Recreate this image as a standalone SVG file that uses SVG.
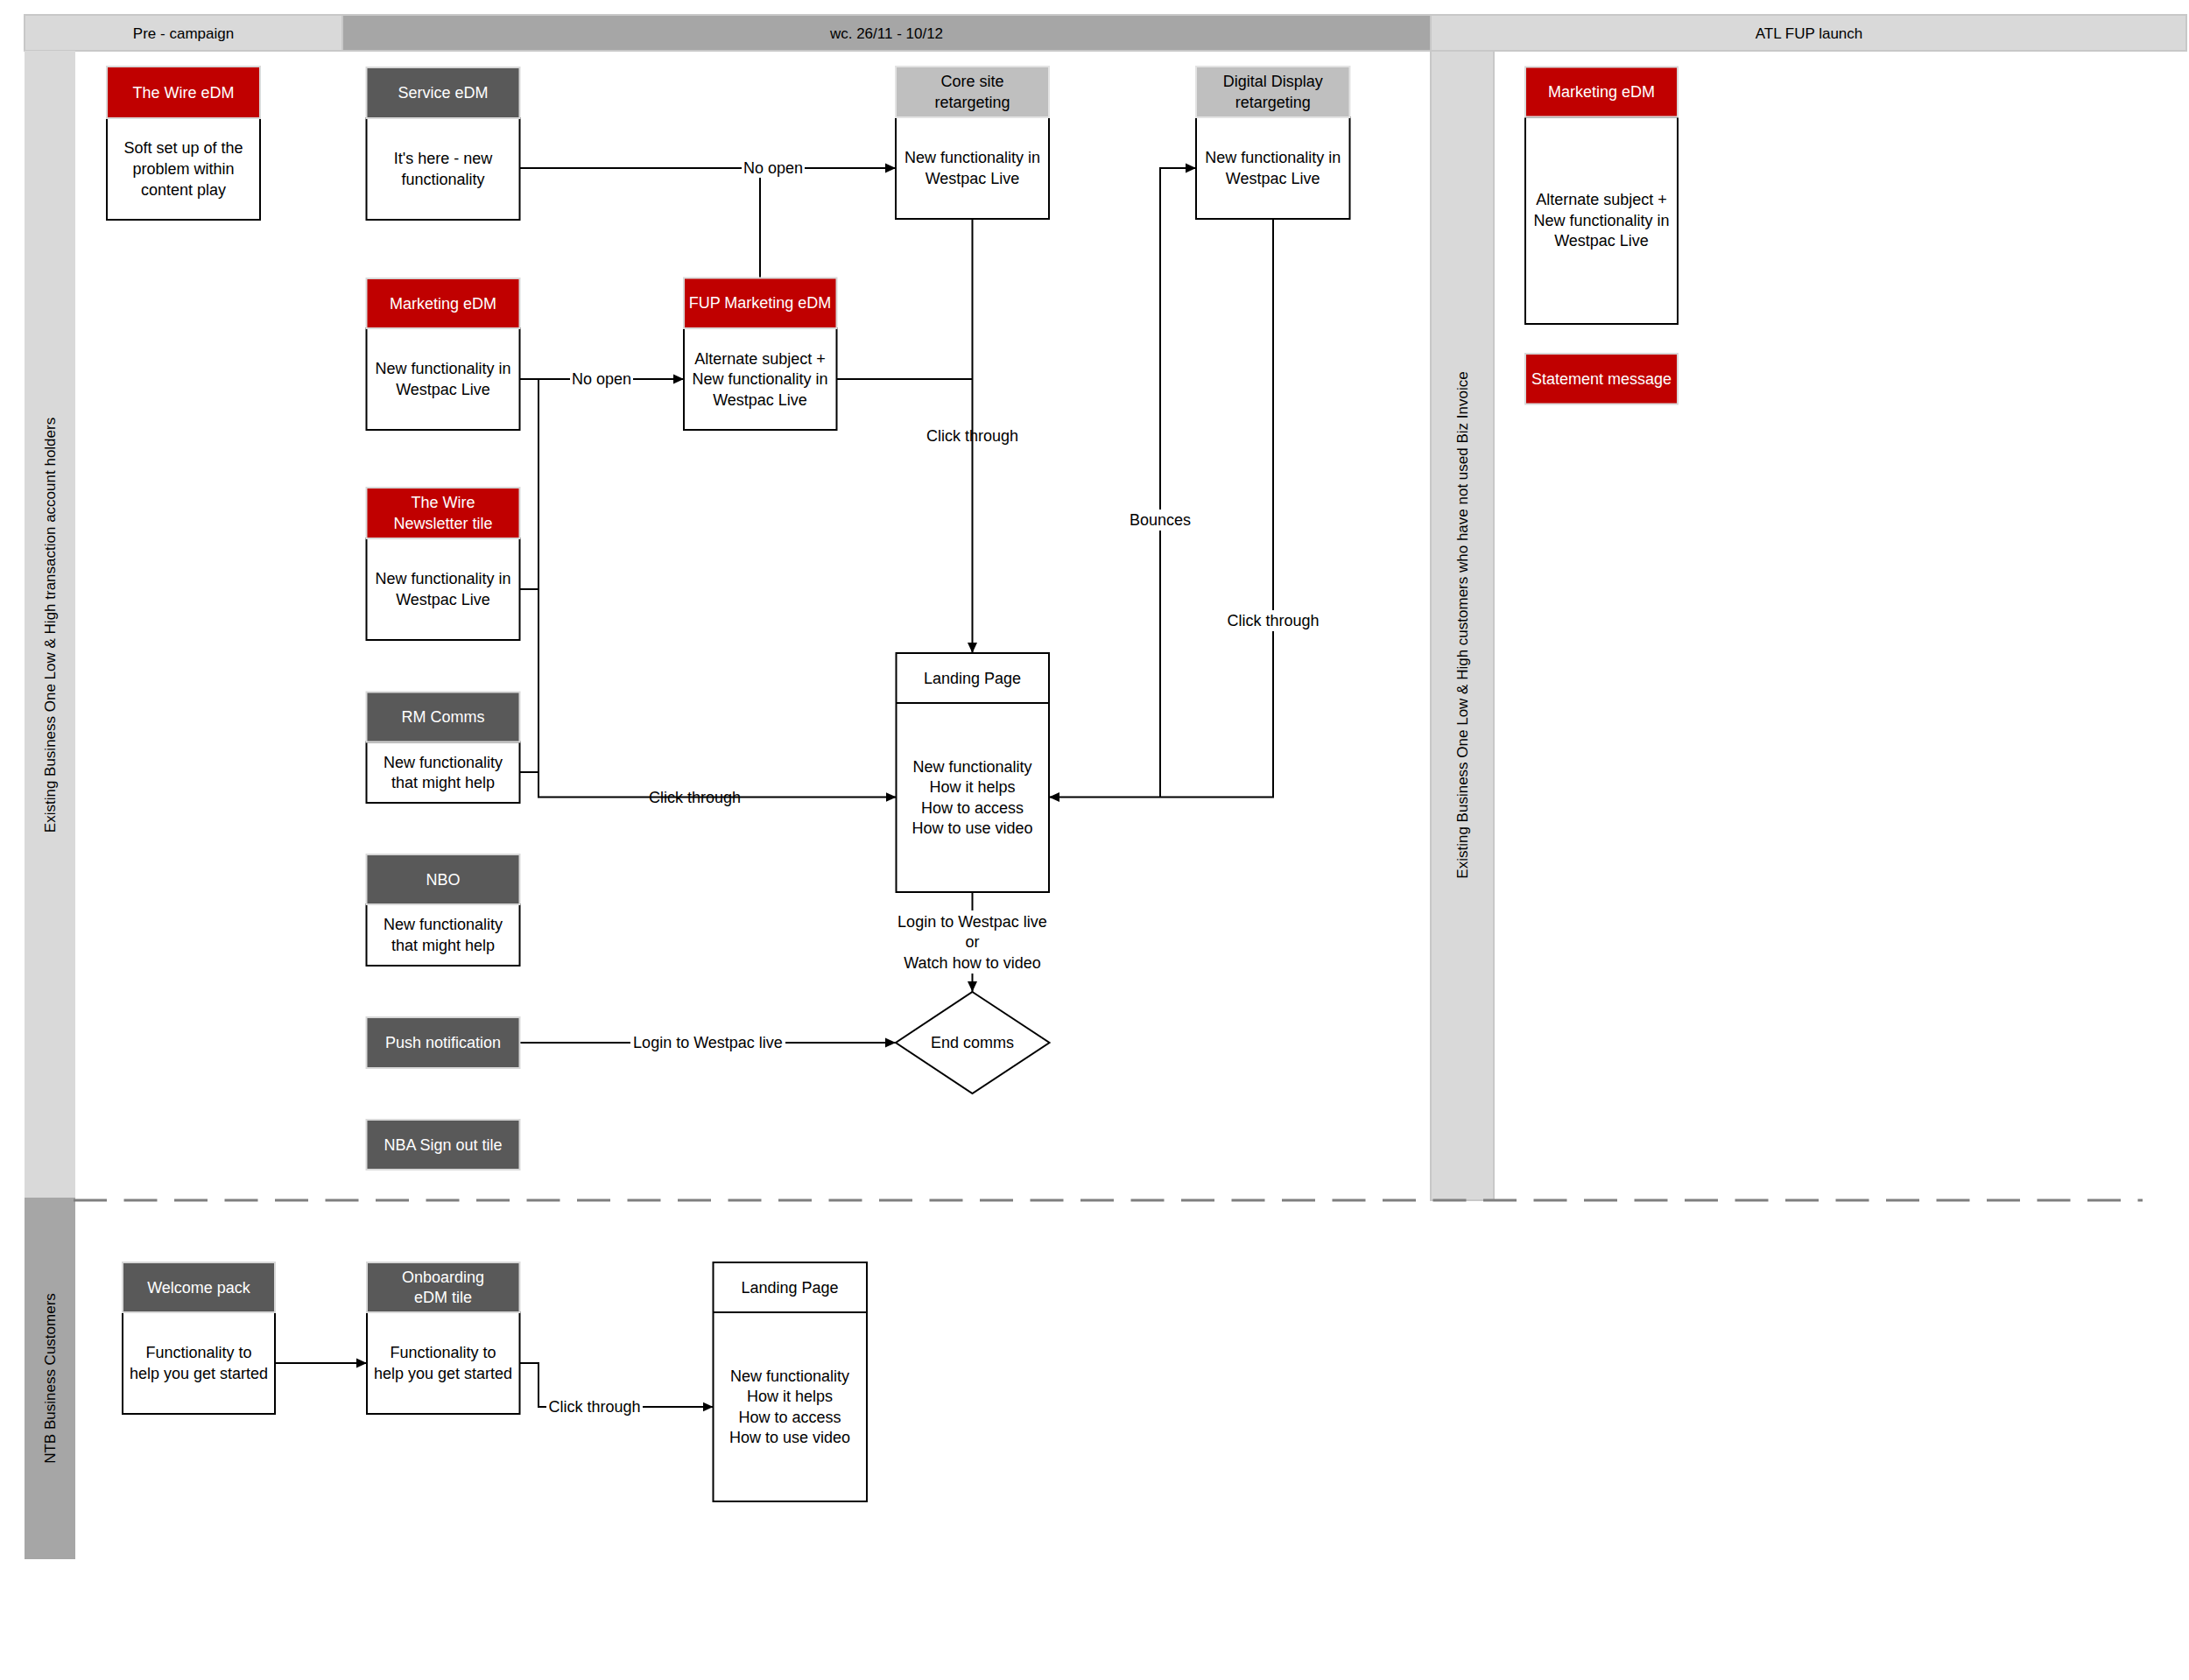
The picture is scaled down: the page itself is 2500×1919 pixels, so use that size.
<svg xmlns="http://www.w3.org/2000/svg" width="2500" height="1919" viewBox="0 0 2500 1919">
<defs>
<style>
.band{fill:#d9d9d9;stroke:#c8c8c8;stroke-width:2}
.bandd{fill:#a6a6a6;stroke:#c8c8c8;stroke-width:2}
.hr{fill:#c00000;stroke:#d9d9d9;stroke-width:2}
.hd{fill:#595959;stroke:#d9d9d9;stroke-width:2}
.hl{fill:#bfbfbf;stroke:#e3e3e3;stroke-width:2}
.bx{fill:#fff;stroke:#000;stroke-width:2}
text{font-family:"Liberation Sans",Arial,sans-serif;font-size:18px;text-anchor:middle;fill:#000}
.w{fill:#fff}
.hdr{font-size:17px}
.lane{font-size:17px}
.c{fill:none;stroke:#000;stroke-width:2}
.bg{fill:#fff}
.dash{fill:none;stroke:#7f7f7f;stroke-width:3;stroke-dasharray:38 19.5}
</style>
<marker id="arr" viewBox="0 0 12 12" refX="12" refY="6" markerWidth="12" markerHeight="12" markerUnits="userSpaceOnUse" orient="auto"><path d="M0,0.5 L12,6 L0,11.5 z" fill="#000"/></marker>
</defs>
<rect width="2500" height="1919" fill="#fff"/>

<g id="lanes">
<rect class="band" x="28" y="17" width="363" height="41"/>
<rect class="bandd" x="391" y="17" width="1243" height="41"/>
<rect class="band" x="1634" y="17" width="863" height="41"/>
<text class="hdr" x="209.5" y="43.5">Pre - campaign</text>
<text class="hdr" x="1012.5" y="43.5">wc. 26/11 - 10/12</text>
<text class="hdr" x="2066" y="43.5">ATL FUP launch</text>
<rect x="28" y="58" width="58" height="1310" fill="#d9d9d9"/>
<rect x="28" y="1368" width="58" height="413" fill="#a6a6a6"/>
<rect x="1634" y="58" width="72" height="1313" fill="#d9d9d9" stroke="#c8c8c8" stroke-width="2"/>
<text class="lane" transform="translate(57,714) rotate(-90)" y="6">Existing Business One Low &amp; High transaction account holders</text>
<text class="lane" transform="translate(1670,714) rotate(-90)" y="6">Existing Business One Low &amp; High customers who have not used Biz Invoice</text>
<text class="lane" transform="translate(57,1574.5) rotate(-90)" y="6">NTB Business Customers</text>
<path class="dash" d="M84,1371 H2447"/>
</g>

<g id="connectors">
<path class="c" d="M593.5,192 H1023" marker-end="url(#arr)"/>
<path class="c" d="M868,317.5 V192"/>
<path class="c" d="M593.5,433 H781" marker-end="url(#arr)"/>
<path class="c" d="M615,433 V910.5 H1023.5" marker-end="url(#arr)"/>
<path class="c" d="M593.5,673 H615"/>
<path class="c" d="M593.5,882 H615"/>
<path class="c" d="M955.5,433 H1110.5"/>
<path class="c" d="M1110.5,250 V746" marker-end="url(#arr)"/>
<path class="c" d="M1454,250 V910.5 H1198" marker-end="url(#arr)"/>
<path class="c" d="M1325,910.5 V192 H1366" marker-end="url(#arr)"/>
<path class="c" d="M1110.5,1019 V1133" marker-end="url(#arr)"/>
<path class="c" d="M593.5,1191 H1023" marker-end="url(#arr)"/>
<path class="c" d="M314,1557 H419" marker-end="url(#arr)"/>
<path class="c" d="M593.5,1557 H615 V1607 H814.5" marker-end="url(#arr)"/>
<rect class="bg" x="847" y="181" width="72" height="22"/>
<text x="883" y="198">No open</text>
<rect class="bg" x="651" y="422" width="72" height="22"/>
<text x="687" y="439">No open</text>
<text x="793.5" y="916.5">Click through</text>
<text x="1110.5" y="504">Click through</text>
<rect class="bg" x="1288" y="582" width="74" height="24"/>
<text x="1325" y="600">Bounces</text>
<rect class="bg" x="1399" y="697" width="110" height="24"/>
<text x="1454" y="715">Click through</text>
<rect class="bg" x="1022.5" y="1040" width="176" height="72"/>
<text x="1110.5" y="1058.7">Login to Westpac live</text>
<text x="1110.5" y="1082.3">or</text>
<text x="1110.5" y="1105.5">Watch how to video</text>
<rect class="bg" x="720" y="1180" width="177" height="22"/>
<text x="808.5" y="1197">Login to Westpac live</text>
<rect class="bg" x="624" y="1596" width="110" height="22"/>
<text x="679" y="1613">Click through</text>
</g>

<g id="n-wire-edm">
<rect class="bx" x="122" y="135" width="175" height="116"/>
<rect class="hr" x="122" y="76" width="175" height="59"/>
<text class="w" x="209.5" y="111.5">The Wire eDM</text>
<text x="209.5" y="175">Soft set up of the</text>
<text x="209.5" y="199">problem within</text>
<text x="209.5" y="223">content play</text>
</g>

<g id="n-service-edm">
<rect class="bx" x="418.5" y="135" width="175" height="116"/>
<rect class="hd" x="418.5" y="77" width="175" height="58"/>
<text class="w" x="506" y="112">Service eDM</text>
<text x="506" y="187.3">It's here - new</text>
<text x="506" y="210.8">functionality</text>
</g>

<g id="n-marketing-edm">
<rect class="bx" x="418.5" y="375" width="175" height="116"/>
<rect class="hr" x="418.5" y="318" width="175" height="57"/>
<text class="w" x="506" y="352.5">Marketing eDM</text>
<text x="506" y="427.3">New functionality in</text>
<text x="506" y="450.8">Westpac Live</text>
</g>

<g id="n-newsletter">
<rect class="bx" x="418.5" y="615" width="175" height="116"/>
<rect class="hr" x="418.5" y="557" width="175" height="58"/>
<text class="w" x="506" y="580.3">The Wire</text>
<text class="w" x="506" y="603.8">Newsletter tile</text>
<text x="506" y="667.3">New functionality in</text>
<text x="506" y="690.8">Westpac Live</text>
</g>

<g id="n-rm-comms">
<rect class="bx" x="418.5" y="847.5" width="175" height="69.5"/>
<rect class="hd" x="418.5" y="790.5" width="175" height="57"/>
<text class="w" x="506" y="825">RM Comms</text>
<text x="506" y="876.5">New functionality</text>
<text x="506" y="900">that might help</text>
</g>

<g id="n-nbo">
<rect class="bx" x="418.5" y="1033" width="175" height="70"/>
<rect class="hd" x="418.5" y="976" width="175" height="57"/>
<text class="w" x="506" y="1010.5">NBO</text>
<text x="506" y="1062.3">New functionality</text>
<text x="506" y="1085.8">that might help</text>
</g>

<g id="n-push">
<rect class="hd" x="418.5" y="1162" width="175" height="58"/>
<text class="w" x="506" y="1197">Push notification</text>
</g>

<g id="n-nba">
<rect class="hd" x="418.5" y="1279" width="175" height="57"/>
<text class="w" x="506" y="1313.5">NBA Sign out tile</text>
</g>

<g id="n-fup-edm">
<rect class="bx" x="781" y="375" width="174.5" height="116"/>
<rect class="hr" x="781" y="317.5" width="174.5" height="57.5"/>
<text class="w" x="868" y="352.3">FUP Marketing eDM</text>
<text x="868" y="415.5">Alternate subject +</text>
<text x="868" y="439">New functionality in</text>
<text x="868" y="462.5">Westpac Live</text>
</g>

<g id="n-core-site">
<rect class="bx" x="1023" y="134" width="175" height="116"/>
<rect class="hl" x="1023" y="76" width="175" height="58"/>
<text x="1110.5" y="99.3">Core site</text>
<text x="1110.5" y="122.8">retargeting</text>
<text x="1110.5" y="186.3">New functionality in</text>
<text x="1110.5" y="209.8">Westpac Live</text>
</g>

<g id="n-digital-display">
<rect class="bx" x="1366" y="134" width="175.5" height="116"/>
<rect class="hl" x="1366" y="76" width="175.5" height="58"/>
<text x="1453.7" y="99.3">Digital Display</text>
<text x="1453.7" y="122.8">retargeting</text>
<text x="1453.7" y="186.3">New functionality in</text>
<text x="1453.7" y="209.8">Westpac Live</text>
</g>

<g id="n-landing-page">
<rect class="bx" x="1023.5" y="746" width="174.5" height="273"/>
<path class="c" d="M1023.5,803 H1198"/>
<text x="1110.5" y="780.5">Landing Page</text>
<text x="1110.5" y="881.8">New functionality</text>
<text x="1110.5" y="905.3">How it helps</text>
<text x="1110.5" y="928.8">How to access</text>
<text x="1110.5" y="952.3">How to use video</text>
</g>

<g id="n-end-comms">
<polygon points="1110.5,1133 1198.5,1191 1110.5,1249 1023,1191" fill="#fff" stroke="#000" stroke-width="2"/>
<text x="1110.5" y="1197">End comms</text>
</g>

<g id="n-atl-marketing-edm">
<rect class="bx" x="1742" y="133.5" width="174" height="236.5"/>
<rect class="hr" x="1742" y="76.5" width="174" height="57"/>
<text class="w" x="1829" y="111">Marketing eDM</text>
<text x="1829" y="234.3">Alternate subject +</text>
<text x="1829" y="257.8">New functionality in</text>
<text x="1829" y="281.3">Westpac Live</text>
</g>

<g id="n-statement-message">
<rect class="hr" x="1742" y="404" width="174" height="57.5"/>
<text class="w" x="1829" y="438.8">Statement message</text>
</g>

<g id="n-welcome-pack">
<rect class="bx" x="140" y="1499" width="174" height="116"/>
<rect class="hd" x="140" y="1442" width="174" height="57"/>
<text class="w" x="227" y="1476.5">Welcome pack</text>
<text x="227" y="1551.3">Functionality to</text>
<text x="227" y="1574.8">help you get started</text>
</g>

<g id="n-onboarding">
<rect class="bx" x="419" y="1499" width="174.5" height="116"/>
<rect class="hd" x="419" y="1442" width="174.5" height="57"/>
<text class="w" x="506" y="1464.8">Onboarding</text>
<text class="w" x="506" y="1488.3">eDM tile</text>
<text x="506" y="1551.3">Functionality to</text>
<text x="506" y="1574.8">help you get started</text>
</g>

<g id="n-landing-page-ntb">
<rect class="bx" x="814.5" y="1442" width="175.5" height="273"/>
<path class="c" d="M814.5,1499 H990"/>
<text x="902" y="1476.5">Landing Page</text>
<text x="902" y="1577.8">New functionality</text>
<text x="902" y="1601.3">How it helps</text>
<text x="902" y="1624.8">How to access</text>
<text x="902" y="1648.3">How to use video</text>
</g>
</svg>
